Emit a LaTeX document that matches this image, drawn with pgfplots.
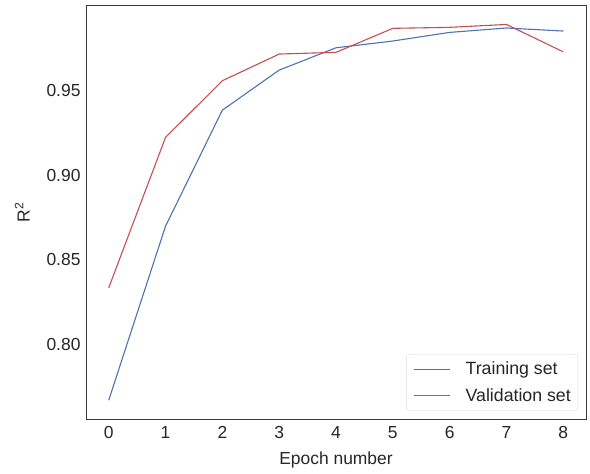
\documentclass[border=0pt]{standalone}
\usepackage{fontspec}
\setmainfont{Liberation Sans}
\usepackage{pgfplots}
\pgfplotsset{compat=1.18}
\definecolor{sbblue}{HTML}{4C72B0}
\definecolor{sbred}{HTML}{C44E52}
\definecolor{frame}{HTML}{262626}
\begin{document}
\begin{tikzpicture}
\begin{axis}[
  scale only axis,
  width=500bp, height=413.3bp,
  xmin=-0.4, xmax=8.4,
  ymin=0.7559, ymax=1.0004,
  xtick={0,1,2,3,4,5,6,7,8},
  ytick={0.80,0.85,0.90,0.95},
  /pgf/number format/assume math mode=true,
  yticklabel style={/pgf/number format/fixed,/pgf/number format/fixed zerofill,/pgf/number format/precision=2},
  major tick length=0pt,
  axis line style={black!78, line width=0.9bp},
  ticklabel style={font=\fontsize{17.5}{20}\selectfont, text=frame},
  xticklabel style={yshift=-4bp},
  yticklabel style={xshift=-2bp},
  label style={font=\fontsize{17.5}{20}\selectfont, text=frame},
  xlabel={Epoch number},
  ylabel={R\textsuperscript{2}},
  xlabel style={yshift=-6bp},
  ylabel style={yshift=10bp},
  legend cell align=left,
  legend style={at={(1,0)}, anchor=south east, xshift=-8bp, yshift=8bp,
    draw=black!15, rounded corners=3bp, fill=white,
    font=\fontsize{17.8}{20}\selectfont, text=frame,
    inner xsep=5bp, inner ysep=6bp, row sep=8bp},
  legend image code/.code={\path[draw=none] (0bp,0bp) -- (52bp,0bp); \draw[#1] (2bp,0bp) -- (38bp,0bp);},
]
\addplot[sbblue, line width=1.1bp] coordinates {
(0,0.767) (1,0.870) (2,0.9386) (3,0.9623) (4,0.9755) (5,0.9795) (6,0.9846) (7,0.9872) (8,0.9854)};
\addlegendentry{Training set}
\addplot[sbred, line width=1.1bp] coordinates {
(0,0.8335) (1,0.9225) (2,0.956) (3,0.9718) (4,0.9728) (5,0.987) (6,0.9876) (7,0.9893) (8,0.9731)};
\addlegendentry{Validation set}
\end{axis}
\pgfresetboundingbox
\path[use as bounding box] ([shift={(-86bp,-55bp)}]current axis.south west) rectangle ([shift={(4bp,5.7bp)}]current axis.north east);
\end{tikzpicture}
\end{document}
